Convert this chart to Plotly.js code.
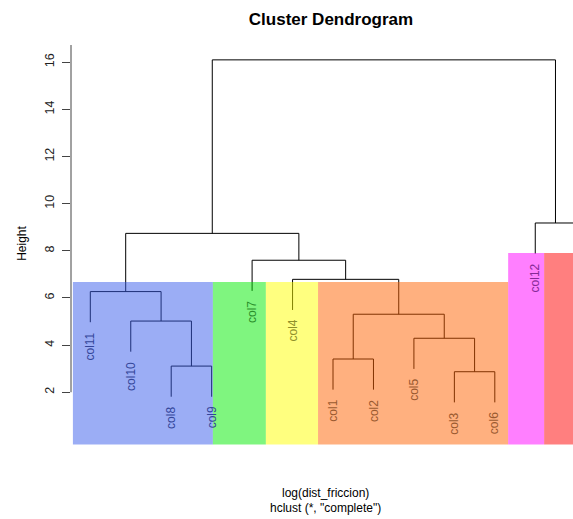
<!DOCTYPE html>
<html>
<head>
<meta charset="utf-8">
<script src="https://cdn.plot.ly/plotly-3.0.1.min.js"></script>
<style>html,body{margin:0;padding:0;background:#fff;overflow:hidden;}#chart{width:573px;height:519px;}</style>
</head>
<body>
<div id="chart"></div>
<script>
// ---- data ----
const leafLabels = ['col11','col10','col8','col9','col7','col4','col1','col2','col5','col3','col6','col12','col13'];
const mergeLeft   = ['col8','col3','col1','col5','col10','m3','col11','col4','col7','m7','col12','m10'];
const mergeRight  = ['col9','col6','col2','m2','m1','m4','m5','m6','m8','m9','col13','m11'];
const mergeHeight = [3.11, 2.87, 3.41, 4.29, 5.02, 5.31, 6.27, 6.79, 7.60, 8.74, 9.18, 16.10];
const hang = 1.3;
const leafCluster = [0,0,0,0,1,2,3,3,3,3,3,4,5];
const clusterFrom = [0.57, 4.03, 5.34, 6.63, 11.33, 12.22];
const clusterTo   = [4.03, 5.34, 6.63, 11.33, 12.22, 13.6];
const clusterTop  = [6.68, 6.68, 6.68, 6.68, 7.91, 7.91];
const clusterBottom = -0.22;
const yTicks = [2,4,6,8,10,12,14,16];
const yAxisTop = 16.73;
const titleText = 'Cluster Dendrogram';
const yTitle = 'Height';
const xTitle1 = 'log(dist_friccion)';
const xTitle2 = 'hclust (*, "complete")';

// ---- styles ----
const clusterFill  = ['rgb(55,91,235)','rgb(0,235,0)','rgb(255,255,0)','rgb(255,97,0)','rgb(255,0,255)','rgb(255,0,0)'];
const clusterLabel = ['#34469a','#2a8f2a','#8f8f2a','#9a5a30','#862a96','#8a3030'];
const FONT = 'Liberation Sans, Arial, Helvetica, sans-serif';

// ---- build dendrogram geometry ----
const node = {};
leafLabels.forEach((n,i)=>{ node[n] = {x: i+1, leaf: true}; });
mergeLeft.forEach((l,k)=>{
  const a = node[l], b = node[mergeRight[k]];
  node['m'+(k+1)] = {x: (a.x+b.x)/2, h: mergeHeight[k], leaf:false};
});
const xs = [], ys = [];
const leafEnd = {};
mergeLeft.forEach((l,k)=>{
  const h = mergeHeight[k];
  const kids = [l, mergeRight[k]];
  const bottoms = kids.map(c => node[c].leaf ? (leafEnd[c] = h - hang) : node[c].h);
  xs.push(node[kids[0]].x, node[kids[0]].x, node[kids[1]].x, node[kids[1]].x, null);
  ys.push(bottoms[0], h, h, bottoms[1], null);
});

const traces = [{
  type:'scatter', mode:'lines', x: xs, y: ys,
  line:{color:'#000', width:1}, hoverinfo:'skip', cliponaxis:true
}];

const shapes = clusterFrom.map((f,i)=>({
  type:'rect', xref:'x', yref:'y', x0:f, x1:clusterTo[i], y0:clusterBottom, y1:clusterTop[i],
  fillcolor: clusterFill[i], opacity:0.5, line:{width:0}, layer:'above'
}));
shapes.push({type:'line', xref:'paper', yref:'y', x0:0, x1:0, y0:yTicks[0], y1:yAxisTop, line:{color:'#444', width:1}});

const annotations = leafLabels.map((n,i)=>({
  x: i+1, y: leafEnd[n], xref:'x', yref:'y', text:n, showarrow:false,
  textangle:-90, xanchor:'center', yanchor:'top', yshift:-8,
  font:{family:FONT, size:12, color: clusterLabel[leafCluster[i]]}
}));
annotations.push({xref:'paper', yref:'paper', x:(325-71)/502, y:0, yanchor:'middle', yshift:-6, text:xTitle1, showarrow:false, font:{family:FONT, size:12, color:'#000'}});
annotations.push({xref:'paper', yref:'paper', x:(325-71)/502, y:0, yanchor:'middle', yshift:-21, text:xTitle2, showarrow:false, font:{family:FONT, size:12, color:'#000'}});

const layout = {
  width:573, height:519,
  margin:{l:71, r:0, t:0, b:32, pad:0},
  paper_bgcolor:'#fff', plot_bgcolor:'#fff', showlegend:false,
  font:{family:FONT, color:'#000'},
  title:{text:titleText, xref:'container', yref:'container', x:331/573, y:1-19/519, xanchor:'center', yanchor:'middle',
         font:{family:FONT, size:17, weight:'bold', color:'#000'}},
  xaxis:{range:[0.5229, 12.933], visible:false, fixedrange:true},
  yaxis:{range:[-2.02, 18.64], tickvals:yTicks, ticks:'outside', ticklen:8, tickwidth:1, tickcolor:'#444',
         tickangle:-90, tickfont:{family:FONT, size:12.5, color:'#222'}, ticklabelstandoff:3,
         showgrid:false, zeroline:false, showline:false, fixedrange:true,
         title:{text:yTitle, font:{family:FONT, size:12, color:'#000'}, standoff:13}},
  shapes: shapes,
  annotations: annotations
};
Plotly.newPlot('chart', traces, layout, {displayModeBar:false, staticPlot:true});
</script>
</body>
</html>
